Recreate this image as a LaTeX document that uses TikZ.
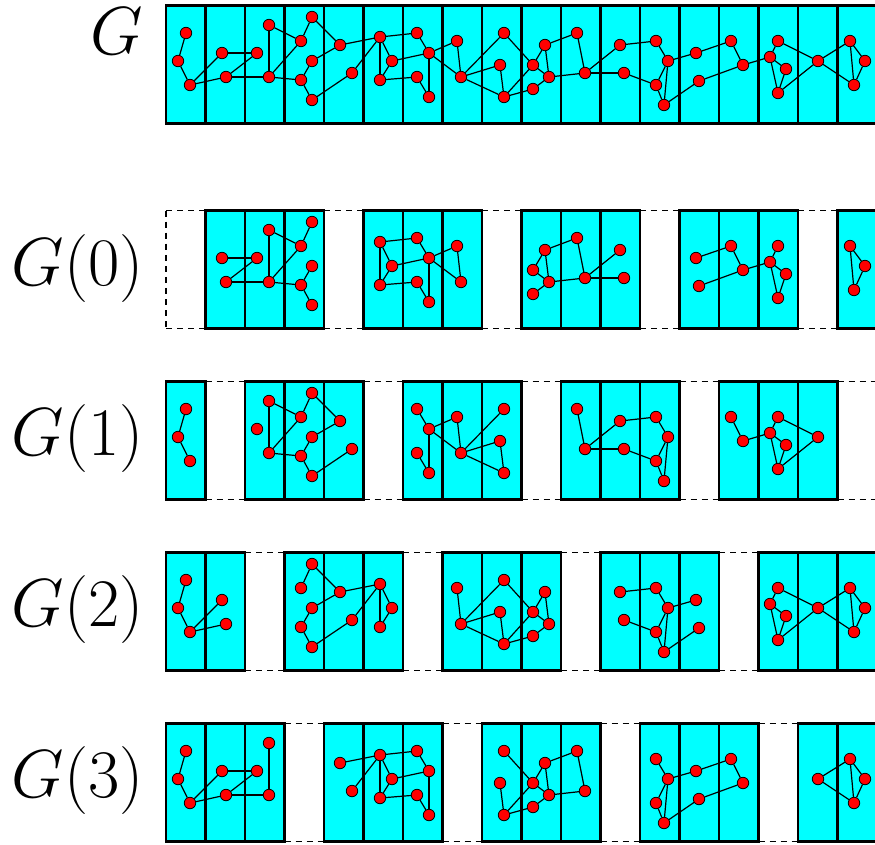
\RequirePackage{fix-cm}
\documentclass[tikz,border=0pt]{standalone}
\pgfdeclarelayer{boxlayer}
\pgfdeclarelayer{edgelayer}
\pgfsetlayers{boxlayer,edgelayer,main}
\definecolor{boxfill}{RGB}{0,255,255}
\definecolor{vtxfill}{RGB}{255,0,0}
\begin{document}
% vertices: name / column / x / y   (y grows downward, one unit = 1px)
\def\Verts{a1/0/186/33,a2/0/178/61,a3/0/190/85,b1/1/222/53,b2/1/226/77,c1/2/257/53,c2/2/269/25,c3/2/269/77,d1/3/301/41,d2/3/312/17,d3/3/312/61,d4/3/301/80,d5/3/312/100,e1/4/340/45,e2/4/352/73,f1/5/380/37,f2/5/392/61,f3/5/380/80,g1/6/417/33,g2/6/429/53,g3/6/417/77,g4/6/429/97,h1/7/457/41,h2/7/461/77,i1/8/504/33,i2/8/500/65,i3/8/504/97,j1/9/533/65,j2/9/545/45,j3/9/549/77,j4/9/533/89,k1/10/577/33,k2/10/585/73,l1/11/620/45,l2/11/624/73,m1/12/656/41,m2/12/668/61,m3/12/656/85,m4/12/664/105,n1/13/696/53,n2/13/699/81,o1/14/731/41,o2/14/743/65,p1/15/770/57,p2/15/778/41,p3/15/786/69,p4/15/778/93,q1/16/818/61,r1/17/850/41,r2/17/865/61,r3/17/854/85}
\def\Edges{a1/a2,a2/a3,a3/b1,a3/b2,b1/c1,b2/c1,b2/c3,c2/c3,c2/d1,c3/d1,c3/d4,d1/d2,d2/e1,e1/d3,d3/d4,d4/d5,d5/e2,e1/f1,e2/f1,f1/f3,f1/f2,f2/f3,f1/g1,f2/g2,f3/g3,g1/g2,g2/g4,g3/g4,g2/h1,g2/h2,h1/h2,h2/i1,h2/i2,h2/i3,i2/i3,i1/j1,i3/j1,i3/j4,j1/j2,j1/j3,j2/j3,j4/j3,j2/k1,j3/k2,k1/k2,k2/l1,k2/l2,l1/m1,l2/m3,m1/m2,m2/m3,m2/m4,m3/m4,m2/n1,n1/o1,o1/o2,m4/n2,n2/o2,o2/p1,p1/p2,p1/p4,p3/p4,p1/p3,p2/q1,p4/q1,q1/r1,q1/r3,r1/r3,r1/r2,r2/r3}
\foreach \n/\c/\x/\y in \Verts {\expandafter\xdef\csname vcol\n\endcsname{\c}}
% #1 prefix of node names, #2 vertical offset, #3 removed column class mod 4 (-1: none)
\newcommand\diagrow[3]{%
  % column fills first, so that no fill covers a neighbour's border
  \begin{pgfonlayer}{boxlayer}
  \foreach \c in {0,...,17} {
    \pgfmathtruncatemacro\isgap{(#3>=0) && (mod(\c,4)==#3)}
    \pgfmathsetmacro\xl{166+39.5*\c}
    \pgfmathsetmacro\xr{\xl+39.5}
    \ifnum\isgap=0 \fill[boxfill] (\xl,5.5+#2) rectangle (\xr,123.5+#2); \fi
  }
  \foreach \c in {0,...,17} {
    \pgfmathtruncatemacro\isgap{(#3>=0) && (mod(\c,4)==#3)}
    \pgfmathsetmacro\xl{166+39.5*\c}
    \pgfmathsetmacro\xr{\xl+39.5}
    \ifnum\isgap=0
      \draw[colbox] (\xl,5.5+#2) rectangle (\xr,123.5+#2);
    \else
      \draw[gapline] (\xl,5.5+#2) -- (\xr,5.5+#2);
      \draw[gapline] (\xl,123.5+#2) -- (\xr,123.5+#2);
      \ifnum\c=0 \draw[gapline] (\xl,5.5+#2) -- (\xl,123.5+#2); \fi
      \ifnum\c=17 \draw[gapline] (\xr,5.5+#2) -- (\xr,123.5+#2); \fi
    \fi
  }
  \end{pgfonlayer}
  \foreach \n/\c/\x/\y in \Verts {
    \pgfmathtruncatemacro\keep{(#3<0) || (mod(\c,4)!=#3)}
    \ifnum\keep=1 \node[vtx] (#1\n) at (\x,\y+#2) {}; \fi
  }
  \begin{pgfonlayer}{edgelayer}
  \foreach \u/\v in \Edges {
    \edef\cu{\csname vcol\u\endcsname}
    \edef\cv{\csname vcol\v\endcsname}
    \pgfmathtruncatemacro\keep{(#3<0) || ((mod(\cu,4)!=#3) && (mod(\cv,4)!=#3))}
    \ifnum\keep=1 \draw[edge] (#1\u) -- (#1\v); \fi
  }
  \end{pgfonlayer}
}
\begin{tikzpicture}[x=0.75pt,y=-0.75pt,
  colbox/.style={draw=black,line width=1.9pt},
  gapline/.style={draw=black,line width=1.1pt,dash pattern=on 4.5pt off 3.8pt},
  vtx/.style={circle,draw=black,fill=vtxfill,line width=0.6pt,inner sep=0pt,minimum size=8.6pt},
  edge/.style={draw=black,line width=0.9pt},
  lbl/.style={anchor=east,inner sep=0pt,font=\fontsize{51}{58}\selectfont}]
\useasboundingbox (0,0) rectangle (875,844);
\diagrow{T}{0}{-1}
\diagrow{Z}{205}{0}
\diagrow{A}{376}{1}
\diagrow{B}{547}{2}
\diagrow{C}{718}{3}
\node[lbl] (lG) at (143,31) {$G$};
\node[lbl] (lG0) at (144,268) {$G(0)$};
\node[lbl] (lG1) at (144,438) {$G(1)$};
\node[lbl] (lG2) at (144,609) {$G(2)$};
\node[lbl] (lG3) at (144,780) {$G(3)$};
\end{tikzpicture}
\end{document}
